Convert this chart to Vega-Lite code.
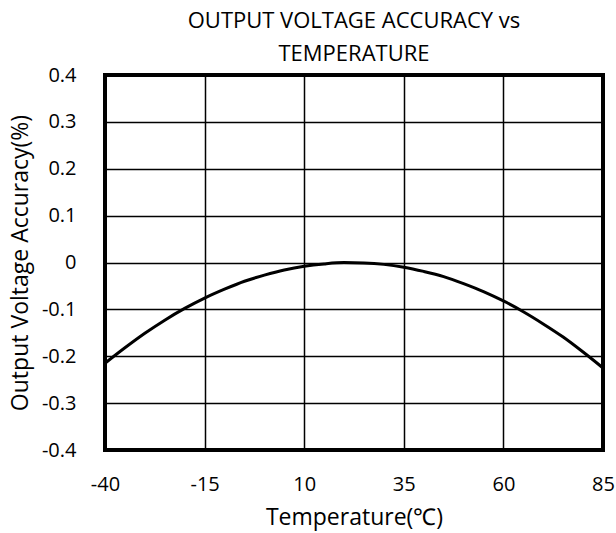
{
  "$schema": "https://vega.github.io/schema/vega-lite/v6.json",
  "autosize": "none",
  "width": 498,
  "height": 375,
  "padding": {"left": 105, "top": 75, "right": 13, "bottom": 83},
  "background": "white",
  "title": {
    "text": ["OUTPUT VOLTAGE ACCURACY vs", "TEMPERATURE"],
    "font": "Open Sans",
    "fontSize": 22,
    "fontWeight": "normal",
    "color": "black",
    "lineHeight": 33,
    "offset": -1,
    "anchor": "middle"
  },
  "config": {
    "view": {"stroke": "black", "strokeWidth": 4},
    "axis": {
      "labelFont": "Open Sans",
      "titleFont": "Open Sans",
      "labelFontSize": 20,
      "titleFontSize": 23,
      "titleFontWeight": "normal",
      "labelColor": "black",
      "titleColor": "black",
      "domain": false,
      "ticks": false,
      "gridColor": "black",
      "gridOpacity": 1,
      "gridWidth": 1.5
    }
  },
  "data": {
    "values": [
      {"t": -40, "v": -0.215},
      {"t": -35, "v": -0.182},
      {"t": -30, "v": -0.151},
      {"t": -25, "v": -0.123},
      {"t": -20, "v": -0.098},
      {"t": -15, "v": -0.076},
      {"t": -10, "v": -0.057},
      {"t": -5, "v": -0.040},
      {"t": 0, "v": -0.027},
      {"t": 5, "v": -0.016},
      {"t": 10, "v": -0.008},
      {"t": 15, "v": -0.003},
      {"t": 20, "v": -0.0002},
      {"t": 25, "v": -0.001},
      {"t": 30, "v": -0.004},
      {"t": 35, "v": -0.010},
      {"t": 40, "v": -0.019},
      {"t": 45, "v": -0.030},
      {"t": 50, "v": -0.045},
      {"t": 55, "v": -0.062},
      {"t": 60, "v": -0.082},
      {"t": 65, "v": -0.105},
      {"t": 70, "v": -0.131},
      {"t": 75, "v": -0.159},
      {"t": 80, "v": -0.191},
      {"t": 85, "v": -0.225}
    ]
  },
  "mark": {"type": "line", "color": "black", "strokeWidth": 3, "interpolate": "monotone"},
  "encoding": {
    "x": {
      "field": "t",
      "type": "quantitative",
      "scale": {"domain": [-40, 85], "nice": false, "zero": false},
      "axis": {
        "values": [-40, -15, 10, 35, 60, 85],
        "labelExpr": "'' + datum.value",
        "title": "Temperature(℃)",
        "labelPadding": 24,
        "titlePadding": 12,
        "labelFlush": false
      }
    },
    "y": {
      "field": "v",
      "type": "quantitative",
      "scale": {"domain": [-0.4, 0.4], "nice": false},
      "axis": {
        "values": [-0.4, -0.3, -0.2, -0.1, 0, 0.1, 0.2, 0.3, 0.4],
        "labelExpr": "'' + datum.value",
        "title": "Output Voltage Accuracy(%)",
        "labelPadding": 29,
        "titlePadding": 9,
        "labelFlush": false
      }
    }
  }
}
